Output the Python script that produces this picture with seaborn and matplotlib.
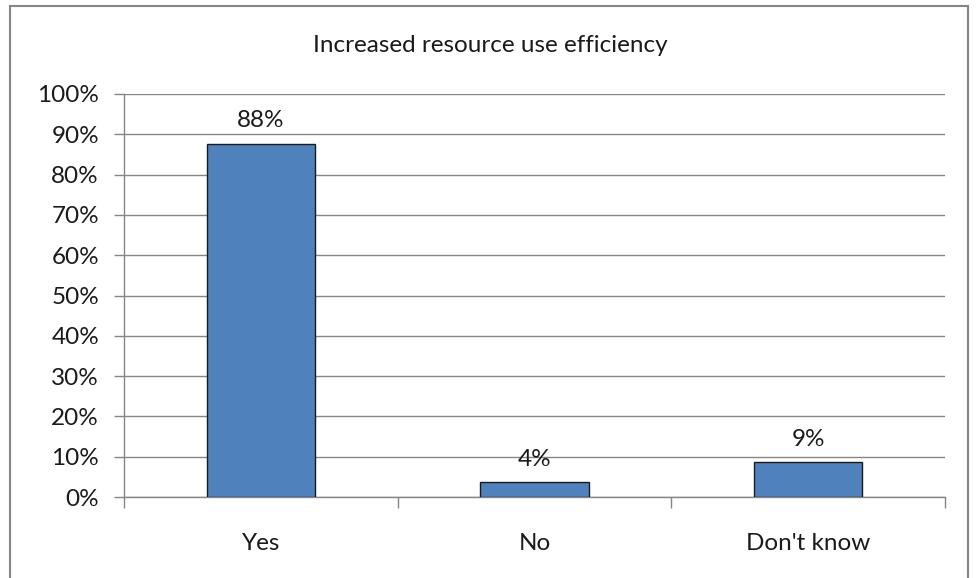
import matplotlib
matplotlib.use("Agg")
import matplotlib.pyplot as plt
from matplotlib.patches import Rectangle
from matplotlib.ticker import PercentFormatter, FixedLocator
import seaborn as sns
import pandas as pd

title = "Increased resource use efficiency"
categories = ["Yes", "No", "Don't know"]
shares = [0.877, 0.037, 0.086]

sns.set_theme(style="white")
plt.rcParams["font.family"] = ["Lato", "DejaVu Sans"]

df = pd.DataFrame({"answer": categories, "share": shares})

fig = plt.figure(figsize=(9.76, 5.78), dpi=100)
ax = fig.add_axes([124 / 976, 1 - 497 / 578, (945 - 124) / 976, (497 - 94) / 578])

sns.barplot(data=df, x="answer", y="share", color="#4F81BD", width=0.395,
            edgecolor="#1a1a1a", linewidth=1.0, saturation=1, ax=ax, zorder=3)

ax.set_ylim(0, 1)
ax.set_xlim(-0.5, len(categories) - 0.5)
ax.yaxis.set_major_locator(FixedLocator([i / 10 for i in range(11)]))
ax.yaxis.set_major_formatter(PercentFormatter(1.0, decimals=0))
ax.grid(axis="y", color="#868686", linewidth=1.0, zorder=0)
ax.set_axisbelow(True)

for side in ["top", "right"]:
    ax.spines[side].set_visible(False)
for side in ["left", "bottom"]:
    ax.spines[side].set_color("#868686")
    ax.spines[side].set_linewidth(1.0)

ax.set_xlabel("")
ax.set_ylabel("")
ax.tick_params(axis="y", which="major", left=True, length=7, width=1,
               color="#868686", labelsize=17.5, pad=11, labelcolor="#1a1a1a")
# category labels centred under bars; ticks at category boundaries
ax.tick_params(axis="x", which="major", bottom=False, labelsize=17.5,
               pad=20, labelcolor="#1a1a1a")
ax.set_xticks(range(len(categories)))
ax.set_xticklabels(categories)
ax.set_xticks([i - 0.5 for i in range(len(categories) + 1)], minor=True)
ax.tick_params(axis="x", which="minor", bottom=True, length=8, width=1,
               color="#868686")

for i, v in enumerate(shares):
    ax.annotate(f"{v:.0%}", (i, v), xytext=(0, 9), textcoords="offset points",
                ha="center", va="bottom", fontsize=17.5, color="#1a1a1a")

fig.text(490 / 976, 1 - 46 / 578, title, ha="center", va="center",
         fontsize=17.5, color="#1a1a1a")

# outer chart frame
fig.patches.append(Rectangle((10 / 976, -0.05), (968 - 10) / 976, 1.05 - 6 / 578,
                             transform=fig.transFigure, fill=False,
                             edgecolor="#868686", linewidth=1.5))

fig.savefig("out.png", dpi=100, facecolor="white")
